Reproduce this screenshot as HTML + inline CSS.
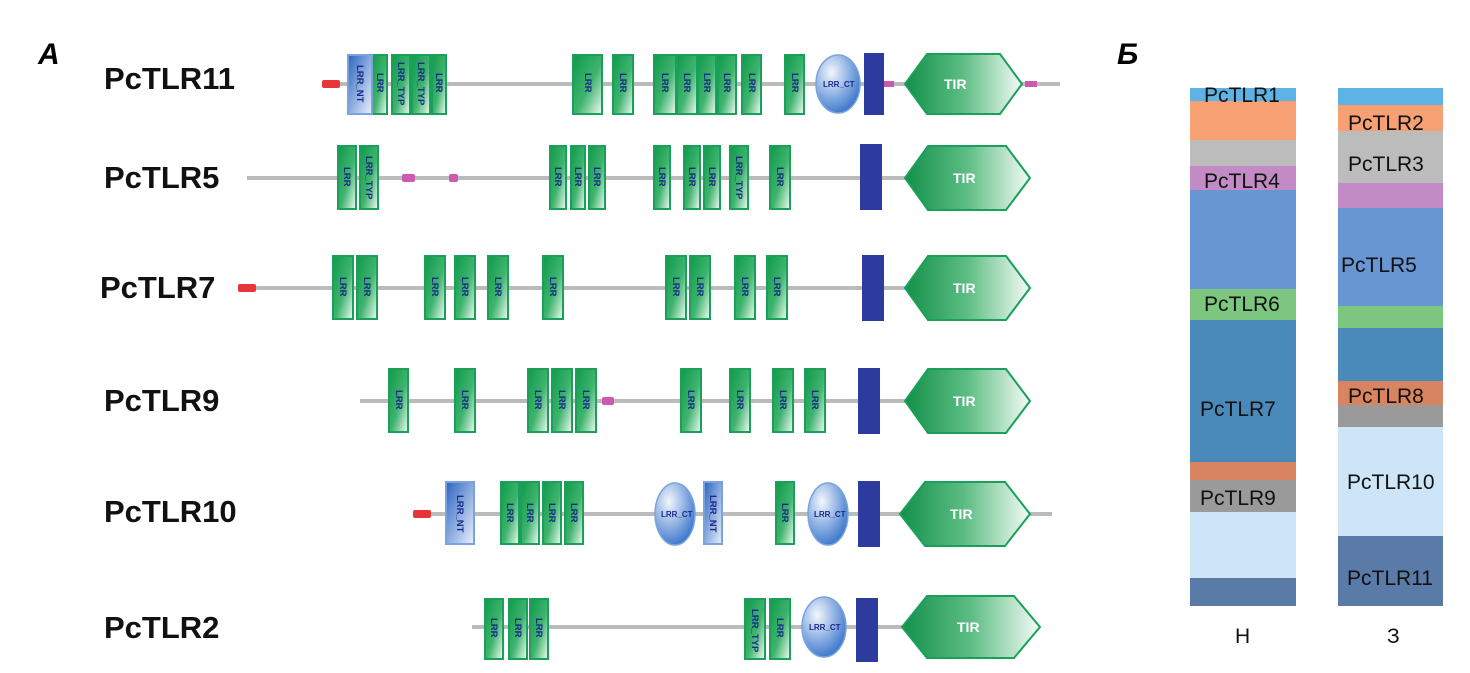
<!DOCTYPE html>
<html><head><meta charset="utf-8"><style>
body{margin:0;background:#fff;width:1470px;height:673px;overflow:hidden}
svg{display:block}
.n{font:bold 31px "Liberation Sans",sans-serif;fill:#111}
.d{font:bold 9.5px "Liberation Sans",sans-serif;fill:#1a2a8a}
.b{font:21px "Liberation Sans",sans-serif;fill:#111}
</style></head><body>
<svg width="1470" height="673" viewBox="0 0 1470 673" xmlns="http://www.w3.org/2000/svg">
<defs>
<linearGradient id="g" x1="0" y1="0" x2="1" y2="1"><stop offset="0" stop-color="#0f9a4a"/><stop offset=".55" stop-color="#3fb46e"/><stop offset="1" stop-color="#f2fbf5"/></linearGradient>
<linearGradient id="bl" x1="0" y1="0" x2="1" y2="1"><stop offset="0" stop-color="#2b63c0"/><stop offset="1" stop-color="#eaf2fc"/></linearGradient>
<linearGradient id="t" x1="0" y1="0" x2="1" y2="0"><stop offset="0" stop-color="#13904a"/><stop offset=".5" stop-color="#5dbd84"/><stop offset="1" stop-color="#f4fbf6"/></linearGradient>
<radialGradient id="e" cx=".35" cy=".3" r=".8"><stop offset="0" stop-color="#f2f7fd"/><stop offset="1" stop-color="#2c6cc8"/></radialGradient>
</defs>
<g fill="#bbb">
<rect x="322" y="82" width="738" height="4"/>
<rect x="247" y="176" width="753" height="4"/>
<rect x="238" y="286" width="762" height="4"/>
<rect x="360" y="399" width="640" height="4"/>
<rect x="413" y="512" width="639" height="4"/>
<rect x="472" y="625" width="568" height="4"/>
</g>
<g class="n"><text x="104" y="89">PcTLR11</text><text x="104" y="188">PcTLR5</text><text x="100" y="298">PcTLR7</text><text x="104" y="411">PcTLR9</text><text x="104" y="522">PcTLR10</text><text x="104" y="638">PcTLR2</text></g>
<text x="38" y="64" style="font:italic bold 30px 'Liberation Sans',sans-serif">A</text>
<text x="1117" y="64" style="font:italic bold 30px 'Liberation Sans',sans-serif">Б</text>
<g fill="#e8353a"><rect x="322" y="80" width="18" height="8" rx="2"/><rect x="238" y="284" width="18" height="8" rx="2"/><rect x="413" y="510" width="18" height="8" rx="2"/></g>
<g fill="#cc5bb0"><rect x="884" y="81" width="10" height="6"/><rect x="1025" y="81" width="12" height="6"/><rect x="402" y="174" width="13" height="8" rx="2"/><rect x="449" y="174" width="9" height="8" rx="2"/><rect x="602" y="397" width="12" height="8" rx="2"/></g>
<g stroke="#1aa05a" stroke-width="2" fill="url(#g)">
<rect x="372" y="55" width="15" height="59"/><rect x="392" y="55" width="18" height="59"/><rect x="412" y="55" width="18" height="59"/><rect x="432" y="55" width="14" height="59"/>
<rect x="573" y="55" width="29" height="59"/><rect x="613" y="55" width="20" height="59"/><rect x="654" y="55" width="22" height="59"/><rect x="677" y="55" width="20" height="59"/><rect x="698" y="55" width="18" height="59"/><rect x="718" y="55" width="18" height="59"/><rect x="742" y="55" width="19" height="59"/><rect x="785" y="55" width="19" height="59"/>
<rect x="338" y="146" width="18" height="63"/><rect x="360" y="146" width="18" height="63"/><rect x="550" y="146" width="16" height="63"/><rect x="571" y="146" width="14" height="63"/><rect x="589" y="146" width="16" height="63"/><rect x="654" y="146" width="16" height="63"/><rect x="684" y="146" width="16" height="63"/><rect x="704" y="146" width="16" height="63"/><rect x="730" y="146" width="18" height="63"/><rect x="770" y="146" width="20" height="63"/>
<rect x="333" y="256" width="20" height="63"/><rect x="357" y="256" width="20" height="63"/><rect x="425" y="256" width="20" height="63"/><rect x="455" y="256" width="20" height="63"/><rect x="488" y="256" width="20" height="63"/><rect x="543" y="256" width="20" height="63"/><rect x="666" y="256" width="20" height="63"/><rect x="690" y="256" width="20" height="63"/><rect x="735" y="256" width="20" height="63"/><rect x="767" y="256" width="20" height="63"/>
<rect x="389" y="369" width="19" height="63"/><rect x="455" y="369" width="20" height="63"/><rect x="528" y="369" width="20" height="63"/><rect x="552" y="369" width="20" height="63"/><rect x="576" y="369" width="20" height="63"/><rect x="681" y="369" width="20" height="63"/><rect x="730" y="369" width="20" height="63"/><rect x="773" y="369" width="20" height="63"/><rect x="805" y="369" width="20" height="63"/>
<rect x="501" y="482" width="18" height="62"/><rect x="521" y="482" width="18" height="62"/><rect x="543" y="482" width="18" height="62"/><rect x="565" y="482" width="18" height="62"/><rect x="776" y="482" width="18" height="62"/>
<rect x="485" y="599" width="18" height="60"/><rect x="509" y="599" width="18" height="60"/><rect x="530" y="599" width="18" height="60"/><rect x="745" y="599" width="20" height="60"/><rect x="770" y="599" width="20" height="60"/>
</g>
<g stroke="#7aa3dd" stroke-width="2" fill="url(#bl)"><rect x="348" y="55" width="24" height="59"/><rect x="446" y="482" width="28" height="62"/><rect x="704" y="482" width="18" height="62"/></g>
<g stroke="#7aa3dd" stroke-width="1.5" fill="url(#e)"><ellipse cx="838" cy="84" rx="22" ry="29"/><ellipse cx="675" cy="514" rx="20" ry="31"/><ellipse cx="828" cy="514" rx="20" ry="31"/><ellipse cx="824" cy="627" rx="22" ry="30"/></g>
<g fill="#2d3a9e"><rect x="864" y="53" width="20" height="62"/><rect x="860" y="144" width="22" height="66"/><rect x="862" y="255" width="22" height="66"/><rect x="858" y="368" width="22" height="66"/><rect x="858" y="481" width="22" height="66"/><rect x="856" y="598" width="22" height="64"/></g>
<g stroke="#1aa05a" stroke-width="2" fill="url(#t)">
<polygon points="905,84 927,54 1000,54 1022,84 1000,114 927,114"/>
<polygon points="905,178 928,146 1006,146 1030,178 1006,210 928,210"/>
<polygon points="905,288 928,256 1006,256 1030,288 1006,320 928,320"/>
<polygon points="905,401 928,369 1006,369 1030,401 1006,433 928,433"/>
<polygon points="900,514 925,482 1005,482 1030,514 1005,546 925,546"/>
<polygon points="902,627 927,596 1014,596 1040,627 1014,658 927,658"/>
</g>
<g font-family="Liberation Sans,sans-serif" font-weight="bold" font-size="14" fill="#fff"><text x="944" y="89">TIR</text><text x="953" y="183">TIR</text><text x="953" y="293">TIR</text><text x="953" y="406">TIR</text><text x="950" y="519">TIR</text><text x="957" y="632">TIR</text></g>
<g class="d">
<text transform="translate(357,65) rotate(90)">LRR_NT</text><text transform="translate(377,73) rotate(90)">LRR</text><text transform="translate(398,62) rotate(90)">LRR_TYP</text><text transform="translate(418,62) rotate(90)">LRR_TYP</text><text transform="translate(436,73) rotate(90)">LRR</text>
<text transform="translate(585,73) rotate(90)">LRR</text><text transform="translate(620,73) rotate(90)">LRR</text><text transform="translate(662,73) rotate(90)">LRR</text><text transform="translate(684,73) rotate(90)">LRR</text><text transform="translate(704,73) rotate(90)">LRR</text><text transform="translate(724,73) rotate(90)">LRR</text><text transform="translate(749,73) rotate(90)">LRR</text><text transform="translate(792,73) rotate(90)">LRR</text>
<text transform="translate(344,167) rotate(90)">LRR</text><text transform="translate(366,156) rotate(90)">LRR_TYP</text><text transform="translate(555,167) rotate(90)">LRR</text><text transform="translate(575,167) rotate(90)">LRR</text><text transform="translate(594,167) rotate(90)">LRR</text><text transform="translate(659,167) rotate(90)">LRR</text><text transform="translate(689,167) rotate(90)">LRR</text><text transform="translate(709,167) rotate(90)">LRR</text><text transform="translate(736,156) rotate(90)">LRR_TYP</text><text transform="translate(777,167) rotate(90)">LRR</text>
<text transform="translate(340,277) rotate(90)">LRR</text><text transform="translate(364,277) rotate(90)">LRR</text><text transform="translate(432,277) rotate(90)">LRR</text><text transform="translate(462,277) rotate(90)">LRR</text><text transform="translate(495,277) rotate(90)">LRR</text><text transform="translate(550,277) rotate(90)">LRR</text><text transform="translate(673,277) rotate(90)">LRR</text><text transform="translate(697,277) rotate(90)">LRR</text><text transform="translate(742,277) rotate(90)">LRR</text><text transform="translate(774,277) rotate(90)">LRR</text>
<text transform="translate(396,390) rotate(90)">LRR</text><text transform="translate(462,390) rotate(90)">LRR</text><text transform="translate(535,390) rotate(90)">LRR</text><text transform="translate(559,390) rotate(90)">LRR</text><text transform="translate(583,390) rotate(90)">LRR</text><text transform="translate(688,390) rotate(90)">LRR</text><text transform="translate(737,390) rotate(90)">LRR</text><text transform="translate(780,390) rotate(90)">LRR</text><text transform="translate(812,390) rotate(90)">LRR</text>
<text transform="translate(457,495) rotate(90)">LRR_NT</text><text transform="translate(507,503) rotate(90)">LRR</text><text transform="translate(527,503) rotate(90)">LRR</text><text transform="translate(549,503) rotate(90)">LRR</text><text transform="translate(571,503) rotate(90)">LRR</text><text transform="translate(710,495) rotate(90)">LRR_NT</text><text transform="translate(782,503) rotate(90)">LRR</text>
<text transform="translate(491,618) rotate(90)">LRR</text><text transform="translate(515,618) rotate(90)">LRR</text><text transform="translate(536,618) rotate(90)">LRR</text><text transform="translate(752,609) rotate(90)">LRR_TYP</text><text transform="translate(777,618) rotate(90)">LRR</text>
</g>
<g style="font:bold 8px 'Liberation Sans',sans-serif" fill="#1a2a8a"><text x="823" y="87">LRR_CT</text><text x="661" y="517">LRR_CT</text><text x="814" y="517">LRR_CT</text><text x="809" y="630">LRR_CT</text></g>
<g>
<rect x="1190" y="88" width="106" height="13" fill="#5eb2e6"/><rect x="1190" y="101" width="106" height="39" fill="#f6a074"/><rect x="1190" y="140" width="106" height="26" fill="#bcbcbc"/><rect x="1190" y="166" width="106" height="24" fill="#c38bc6"/><rect x="1190" y="190" width="106" height="99" fill="#6796d3"/><rect x="1190" y="289" width="106" height="31" fill="#7dc67f"/><rect x="1190" y="320" width="106" height="142" fill="#4a8aba"/><rect x="1190" y="462" width="106" height="18" fill="#d88460"/><rect x="1190" y="480" width="106" height="32" fill="#9a9a9a"/><rect x="1190" y="512" width="106" height="66" fill="#cde5f6"/><rect x="1190" y="578" width="106" height="28" fill="#5a7aa8"/>
<rect x="1338" y="88" width="105" height="17" fill="#5eb2e6"/><rect x="1338" y="105" width="105" height="26" fill="#f6a074"/><rect x="1338" y="131" width="105" height="52" fill="#bcbcbc"/><rect x="1338" y="183" width="105" height="25" fill="#c38bc6"/><rect x="1338" y="208" width="105" height="98" fill="#6796d3"/><rect x="1338" y="306" width="105" height="22" fill="#7dc67f"/><rect x="1338" y="328" width="105" height="53" fill="#4a8aba"/><rect x="1338" y="381" width="105" height="24" fill="#d88460"/><rect x="1338" y="405" width="105" height="22" fill="#9a9a9a"/><rect x="1338" y="427" width="105" height="109" fill="#cde5f6"/><rect x="1338" y="536" width="105" height="70" fill="#5a7aa8"/>
</g>
<g class="b"><text x="1204" y="102">PcTLR1</text><text x="1204" y="188">PcTLR4</text><text x="1204" y="311">PcTLR6</text><text x="1200" y="416">PcTLR7</text><text x="1200" y="505">PcTLR9</text>
<text x="1348" y="130">PcTLR2</text><text x="1348" y="171">PcTLR3</text><text x="1341" y="272">PcTLR5</text><text x="1348" y="403">PcTLR8</text><text x="1347" y="489">PcTLR10</text><text x="1347" y="585">PcTLR11</text>
<text x="1235" y="643">H</text><text x="1387" y="643">З</text></g>
</svg>
</body></html>
